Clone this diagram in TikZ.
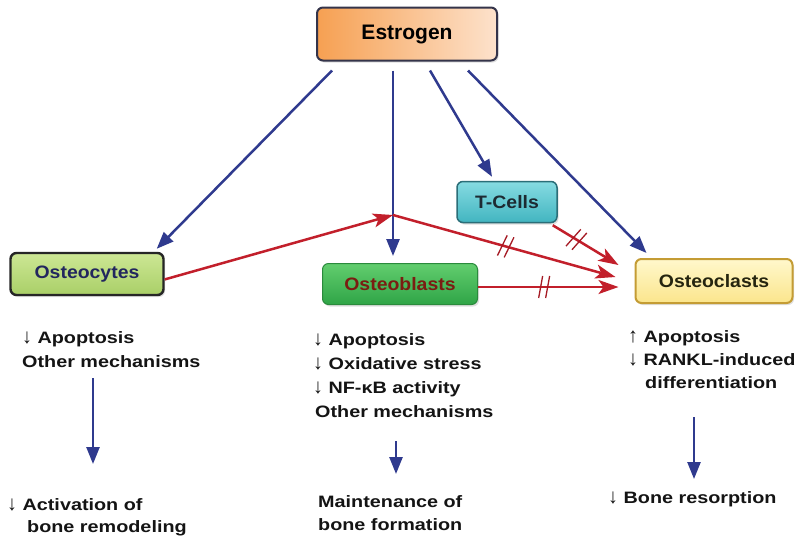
\documentclass[tikz,border=0pt]{standalone}
\usepackage{fontspec}
\setmainfont{Liberation Sans}
\usetikzlibrary{arrows.meta,calc,decorations.markings,shadows}
\definecolor{bluec}{HTML}{2F3A8E}
\definecolor{redc}{HTML}{C21F2B}
\definecolor{estL}{HTML}{F6A052}
\definecolor{estR}{HTML}{FDE2CC}
\definecolor{estB}{HTML}{34344A}
\definecolor{ocyT}{HTML}{CDE795}
\definecolor{ocyB}{HTML}{A9CF67}
\definecolor{ocyTx}{HTML}{22265E}
\definecolor{oblT}{HTML}{62CD6E}
\definecolor{oblB}{HTML}{2FA447}
\definecolor{oblD}{HTML}{2A8A3C}
\definecolor{oblTx}{HTML}{7A1D12}
\definecolor{tcT}{HTML}{86DBE2}
\definecolor{tcB}{HTML}{42B5C0}
\definecolor{tcD}{HTML}{2B6E78}
\definecolor{tcTx}{HTML}{1D2A32}
\definecolor{oclT}{HTML}{FFF8CC}
\definecolor{oclB}{HTML}{FBE58C}
\definecolor{oclD}{HTML}{C49C34}
\definecolor{oclTx}{HTML}{25250F}
\definecolor{txtc}{HTML}{141414}
\newcommand\stretchtxt[1]{\scalebox{1.2}[1]{#1}}
\newcommand\stretchbox[1]{\scalebox{1.08}[1]{#1}}
\newcommand\dnarr{{\mdseries\scalebox{1}[1.25]{↓}}}
\newcommand\uparr{{\mdseries\scalebox{1}[1.25]{↑}}}
\begin{document}
\begin{tikzpicture}[x=1pt,y=-1pt,
  boxbase/.style={rounded corners=6pt, inner sep=0pt,
    drop shadow={opacity=0.25, shadow xshift=1.5pt, shadow yshift=-2pt},
    font=\fontsize{18}{20}\selectfont\bfseries},
  estbox/.style={boxbase, minimum width=180pt, minimum height=53pt,
    left color=estL, right color=estR, draw=estB, line width=2pt,
    text=black, font=\fontsize{21}{24}\selectfont\bfseries},
  ocybox/.style={boxbase, minimum width=153pt, minimum height=42pt,
    top color=ocyT, bottom color=ocyB, draw=black!85, line width=2.4pt, text=ocyTx},
  oblbox/.style={boxbase, minimum width=155pt, minimum height=41pt,
    top color=oblT, bottom color=oblB, draw=oblD, line width=1pt, text=oblTx},
  tcbox/.style={boxbase, minimum width=100pt, minimum height=41pt,
    top color=tcT, bottom color=tcB, draw=tcD, line width=1.5pt, text=tcTx},
  oclbox/.style={boxbase, minimum width=157pt, minimum height=44pt,
    top color=oclT, bottom color=oclB, draw=oclD, line width=2pt, text=oclTx},
  txt/.style={anchor=base west, inner sep=0pt, text=txtc,
    font=\fontsize{16.5}{20}\selectfont\bfseries},
  bluearrow/.style={draw=bluec, line width=2.5pt,
    -{Triangle[length=17pt,width=13pt]}},
  redarrow/.style={draw=redc, line width=2.5pt,
    -{Stealth[length=20pt,width=14pt,inset=5pt]}},
  dblcut/.style={postaction={decorate, decoration={markings,
    mark=at position #1 with {\draw[-, redc!85!black, line width=1.3pt]
      (-4pt,-11pt) -- (0pt,11pt) (3pt,-11pt) -- (7pt,11pt);}}}}
]
\useasboundingbox (0,0) rectangle (805,547);
\fill[white] (0,0) rectangle (805,547);

% boxes
\node[estbox] (est) at (407,34) {Estrogen};
\node[ocybox] (ocy) at (87,274) {\stretchbox{Osteocytes}};
\node[oblbox] (obl) at (400,284) {\stretchbox{Osteoblasts}};
\node[tcbox]  (tc)  at (507,202) {\stretchbox{T-Cells}};
\node[oclbox] (ocl) at (714,281) {\stretchbox{Osteoclasts}};

\coordinate (j) at (393,215);

% blue arrows from estrogen
\draw[bluearrow] ($(est.south)+(-75,9)$) -- ($(ocy.north east)+(-8,-3)$);
\draw[bluearrow] ($(est.south -| j)+(0,9)$) -- ($(obl.north -| j)+(0,-7)$);
\draw[bluearrow] ($(est.south)+(23,9)$) -- ($(tc.north)+(-15,-4)$);
\draw[bluearrow] ($(est.south)+(61,9)$) -- ($(ocl.north west)+(12,-5)$);

% red arrows
\draw[redarrow] (ocy.-4) -- (j);
\draw[redarrow, dblcut=0.5] (j) -- ($(ocl.west)+(-19,-4)$);
\draw[redarrow, dblcut=0.34] ($(tc.south east)+(-5,2)$) -- ($(ocl.west)+(-16,-16)$);
\draw[redarrow, dblcut=0.46] ($(obl.east)+(0,3)$) -- ($(ocl.west)+(-16,6)$);

% left column text
\node[txt] (l1) at (22,343) {\stretchtxt{\dnarr\ Apoptosis}};
\node[txt] (l2) at (22,367) {\stretchtxt{Other mechanisms}};
\node[txt] (l3) at (7,510) {\stretchtxt{\dnarr\ Activation of}};
\node[txt] (l4) at (27,532) {\stretchtxt{bone remodeling}};
\coordinate (la1) at (93,378);
\coordinate (la2) at (93,464);
\draw[bluearrow] (la1) -- (la2);

% middle column text
\node[txt] (m1) at (313,345) {\stretchtxt{\dnarr\ Apoptosis}};
\node[txt] (m2) at (313,369) {\stretchtxt{\dnarr\ Oxidative stress}};
\node[txt] (m3) at (313,393) {\stretchtxt{\dnarr\ NF-κB activity}};
\node[txt] (m4) at (315,417) {\stretchtxt{Other mechanisms}};
\node[txt] (m5) at (318,507) {\stretchtxt{Maintenance of}};
\node[txt] (m6) at (318,530) {\stretchtxt{bone formation}};
\coordinate (ma1) at (396,441);
\coordinate (ma2) at (396,474);
\draw[bluearrow] (ma1) -- (ma2);

% right column text
\node[txt] (r1) at (628,342) {\stretchtxt{\uparr\ Apoptosis}};
\node[txt] (r2) at (628,365) {\stretchtxt{\dnarr\ RANKL-induced}};
\node[txt] (r3) at (645,388) {\stretchtxt{differentiation}};
\node[txt] (r4) at (608,503) {\stretchtxt{\dnarr\ Bone resorption}};
\coordinate (ra1) at (694,417);
\coordinate (ra2) at (694,479);
\draw[bluearrow] (ra1) -- (ra2);
\end{tikzpicture}
\end{document}
